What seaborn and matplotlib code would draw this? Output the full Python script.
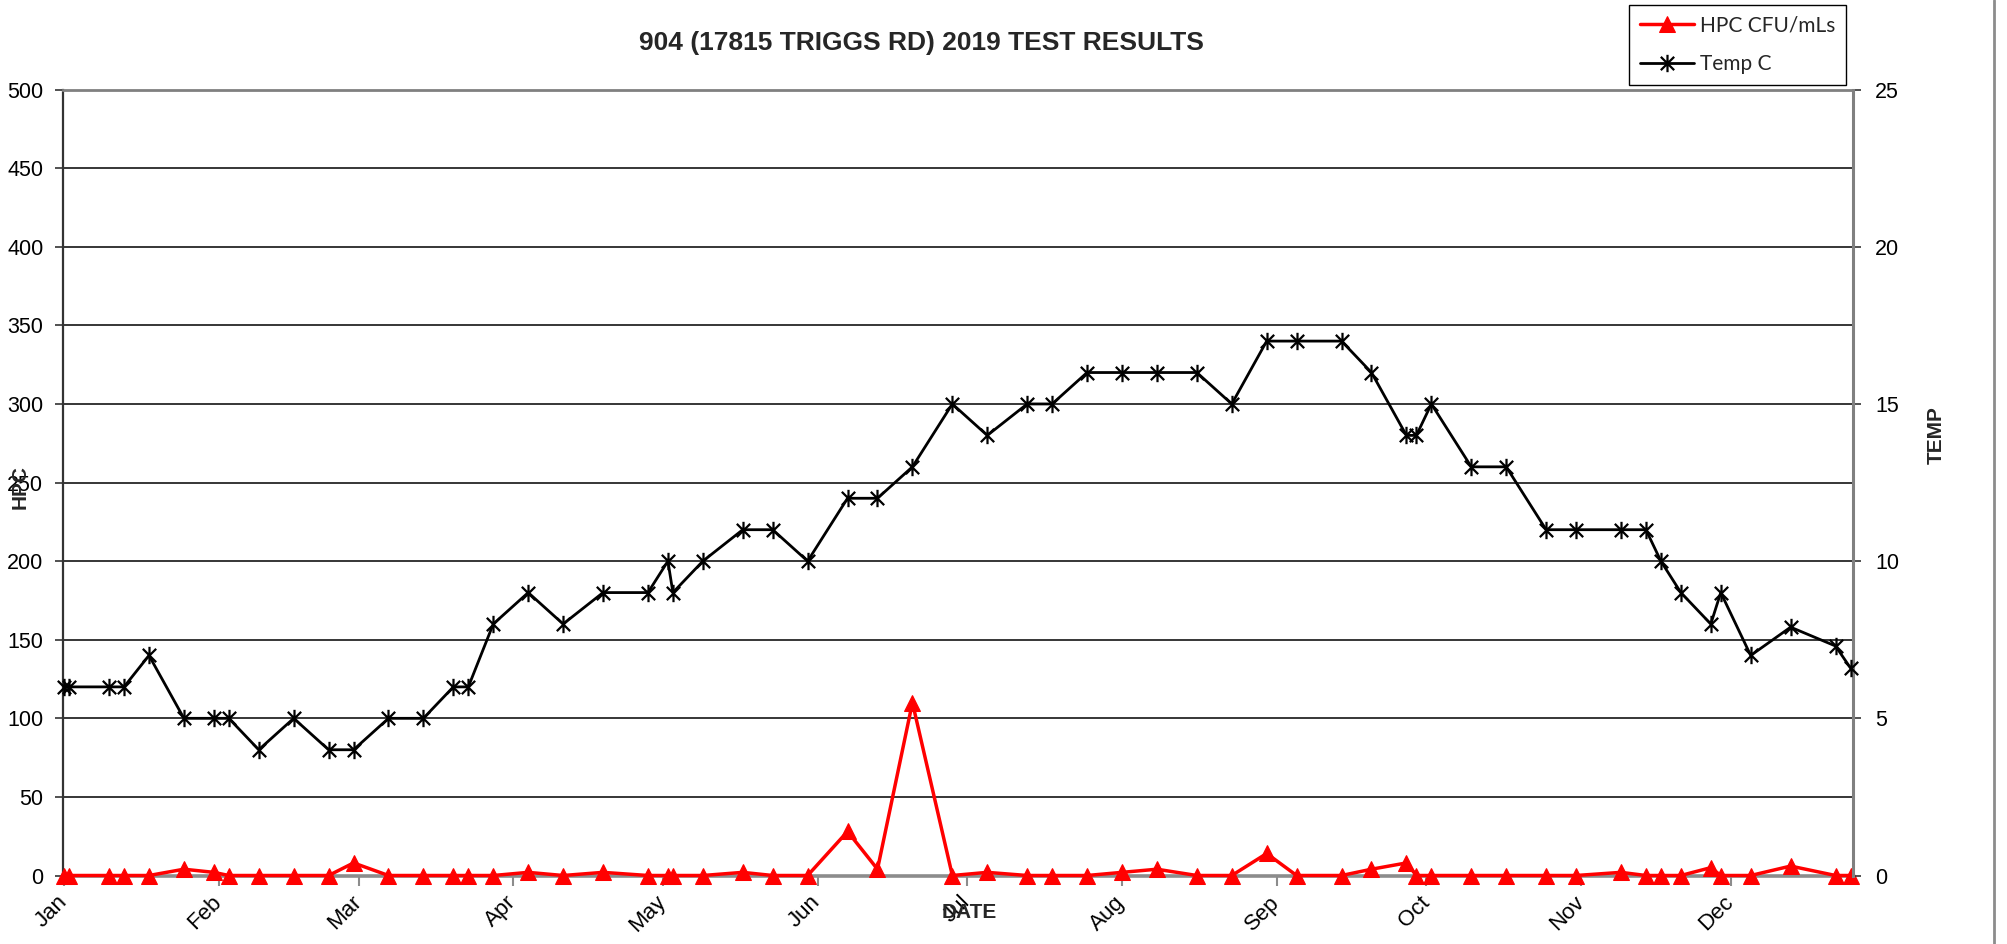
import numpy as np
import pandas as pd
import matplotlib
matplotlib.use("Agg")
import matplotlib.pyplot as plt
import matplotlib.transforms as mtransforms
from matplotlib.path import Path
from matplotlib.lines import Line2D
import seaborn as sns

# ---------------- data ----------------
dates = [
    "2019-01-01", "2019-01-02", "2019-01-10", "2019-01-13", "2019-01-18",
    "2019-01-25", "2019-01-31", "2019-02-03", "2019-02-09", "2019-02-16",
    "2019-02-23", "2019-02-28", "2019-03-07", "2019-03-14", "2019-03-20",
    "2019-03-23", "2019-03-28", "2019-04-04", "2019-04-11", "2019-04-19",
    "2019-04-28", "2019-05-02", "2019-05-03", "2019-05-09", "2019-05-17",
    "2019-05-23", "2019-05-30", "2019-06-07", "2019-06-13", "2019-06-20",
    "2019-06-28", "2019-07-05", "2019-07-13", "2019-07-18", "2019-07-25",
    "2019-08-01", "2019-08-08", "2019-08-16", "2019-08-23", "2019-08-30",
    "2019-09-05", "2019-09-14", "2019-09-20", "2019-09-27", "2019-09-29",
    "2019-10-02", "2019-10-10", "2019-10-17", "2019-10-25", "2019-10-31",
    "2019-11-09", "2019-11-14", "2019-11-17", "2019-11-21", "2019-11-27",
    "2019-11-29", "2019-12-05", "2019-12-13", "2019-12-22", "2019-12-25",
]
hpc = [
    0, 0, 0, 0, 0, 4, 2, 0, 0, 0,
    0, 8, 0, 0, 0, 0, 0, 2, 0, 2,
    0, 0, 0, 0, 2, 0, 0, 28, 4, 110,
    0, 2, 0, 0, 0, 2, 4, 0, 0, 14,
    0, 0, 4, 8, 0, 0, 0, 0, 0, 0,
    2, 0, 0, 0, 5, 0, 0, 6, 0, 0,
]
temp = [
    6, 6, 6, 6, 7, 5, 5, 5, 4, 5,
    4, 4, 5, 5, 6, 6, 8, 9, 8, 9,
    9, 10, 9, 10, 11, 11, 10, 12, 12, 13,
    15, 14, 15, 15, 16, 16, 16, 16, 15, 17,
    17, 17, 16, 14, 14, 15, 13, 13, 11, 11,
    11, 11, 10, 9, 8, 9, 7, 7.9, 7.3, 6.6,
]
month_labels = ["Jan", "Feb", "Mar", "Apr", "May", "Jun",
                "Jul", "Aug", "Sep", "Oct", "Nov", "Dec"]
hpc_ticks = list(range(0, 501, 50))
temp_ticks = list(range(0, 26, 5))
title = "904 (17815 TRIGGS RD) 2019 TEST RESULTS"

# ---------------- style ----------------
sns.set_theme(style="white")
plt.rcParams['font.family'] = ['Liberation Sans', 'DejaVu Sans']

df = pd.DataFrame({"date": pd.to_datetime(dates), "HPC": hpc, "Temp": temp})

W, H = 2007, 944
fig = plt.figure(figsize=(W / 100, H / 100), dpi=100)
fig.patch.set_facecolor("white")
L, R, T, B = 62.7, 1853, 89.6, 875.5
ax = fig.add_axes([L / W, 1 - B / H, (R - L) / W, (B - T) / H])
ax2 = ax.twinx()

star = Path([(-1, -1), (1, 1), (-1, 1), (1, -1), (0, -1.3), (0, 1.3)],
            [Path.MOVETO, Path.LINETO] * 3)

sns.lineplot(data=df, x="date", y="HPC", ax=ax, color="#FF0000", lw=2.5,
             marker="^", markersize=12, markeredgecolor="#FF0000",
             markerfacecolor="#FF0000", label="HPC CFU/mLs", legend=False,
             clip_on=False, zorder=5)
sns.lineplot(data=df, x="date", y="Temp", ax=ax2, color="black", lw=2.0,
             marker=star, markersize=12.5, markeredgewidth=1.6,
             markeredgecolor="black", markerfacecolor="none",
             label="Temp C", legend=False, clip_on=False, zorder=5)

# axes ranges
x0 = pd.Timestamp("2019-01-01") - pd.Timedelta(hours=7)
x1 = pd.Timestamp("2019-12-25") + pd.Timedelta(hours=12)
ax.set_xlim(x0, x1)
ax.set_ylim(0, 500)
ax2.set_ylim(0, 25)

ax.set_yticks(hpc_ticks)
ax2.set_yticks(temp_ticks)
month_pos = pd.date_range("2019-01-01", periods=12, freq="MS")
ax.set_xticks(month_pos)
ax.set_xticklabels(month_labels, rotation=45, ha="right", va="center",
                   rotation_mode="anchor")
shift = mtransforms.ScaledTranslation(4 / 100, 0, fig.dpi_scale_trans)
for lab in ax.get_xticklabels():
    lab.set_transform(lab.get_transform() + shift)

ax.grid(False)
ax2.grid(False)
for v in hpc_ticks[1:-1]:
    ax.axhline(v, color="black", lw=1.1, zorder=1)

ax.set_xlabel("")
ax.set_ylabel("")
ax2.set_ylabel("")

# spines
for s in ["top", "right", "left", "bottom"]:
    ax.spines[s].set_visible(True)
    ax2.spines[s].set_visible(False)
ax.spines["left"].set_color("#333333")
ax.spines["left"].set_linewidth(1.6)
ax.spines["top"].set_color("#808080")
ax.spines["top"].set_linewidth(2.0)
ax.spines["bottom"].set_color("#8c8c8c")
ax.spines["bottom"].set_linewidth(2.6)
ax.spines["right"].set_visible(False)
ax2.spines["right"].set_visible(True)
ax2.spines["right"].set_color("#808080")
ax2.spines["right"].set_linewidth(2.2)

ax.tick_params(axis="y", which="both", left=True, direction="out", length=6,
               width=1.2, color="#333333", labelsize=15.5, pad=8,
               labelcolor="black")
ax.tick_params(axis="x", which="both", bottom=True, direction="out", length=7,
               width=1.5, color="#8c8c8c", labelsize=16, pad=10,
               labelcolor="black")
ax2.tick_params(axis="y", which="both", right=True, direction="out", length=6,
                width=1.2, color="#333333", labelsize=15.5, pad=10,
                labelcolor="black")

# texts
fig.text(921 / W, 1 - 43 / H, title, ha="center", va="center",
         fontsize=19, fontweight="bold")
fig.text(20 / W, 1 - 487 / H, "HPC", rotation=90, ha="center", va="center",
         fontsize=15, fontweight="bold")
fig.text(1936 / W, 1 - 435 / H, "TEMP", rotation=90, ha="center",
         va="center", fontsize=15, fontweight="bold")
fig.text(969 / W, 1 - 913 / H, "DATE", ha="center", va="center",
         fontsize=15, fontweight="bold")

# legend
handles = [ax.get_lines()[0], ax2.get_lines()[0]]
labels = ["HPC CFU/mLs", "Temp C"]
leg = fig.legend(handles, labels, loc="upper right",
                 bbox_to_anchor=(1846 / W, 1 - 5 / H),
                 frameon=True, fancybox=False, framealpha=1,
                 edgecolor="black", borderaxespad=0, borderpad=0.5,
                 handlelength=2.6, handletextpad=0.3, labelspacing=0.9,
                 prop={"family": ["Lato", "DejaVu Sans"], "size": 15})
leg.get_frame().set_linewidth(1.0)

# outer chart border on the right
fig.add_artist(Line2D([1994 / W, 1994 / W], [0, 1], color="#8c8c8c", lw=2,
                      transform=fig.transFigure))

fig.savefig("out.png", dpi=100)
